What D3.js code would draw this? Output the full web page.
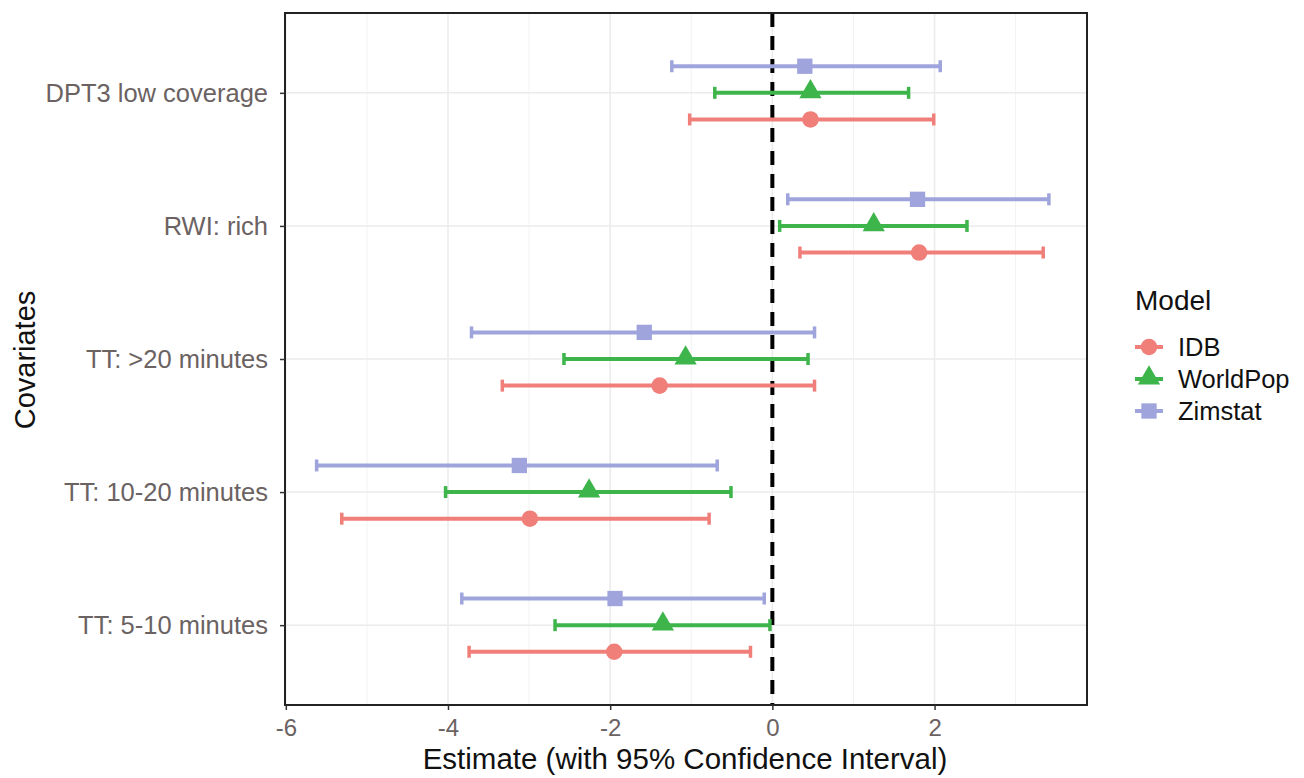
<!DOCTYPE html>
<html>
<head>
<meta charset="utf-8">
<script src="https://cdn.jsdelivr.net/npm/d3@7"></script>
<style>
  body { margin: 0; background: #fff; }
  text { font-family: "Liberation Sans", Arial, sans-serif; }
</style>
</head>
<body>
<div id="chart"></div>
<script>
// categories, top to bottom
var covariates = ["DPT3 low coverage", "RWI: rich", "TT: >20 minutes", "TT: 10-20 minutes", "TT: 5-10 minutes"];
var models = ["IDB", "WorldPop", "Zimstat"];
var colors = ["#F07F7A", "#3DB54B", "#9FA5DC"];

// estimates and confidence bounds, one value per covariate
var idbEst = [0.47, 1.81, -1.39, -2.99, -1.95];
var idbLo = [-1.02, 0.34, -3.33, -5.31, -3.74];
var idbHi = [1.99, 3.34, 0.52, -0.78, -0.27];

var wpEst = [0.47, 1.25, -1.07, -2.26, -1.35];
var wpLo = [-0.71, 0.09, -2.57, -4.03, -2.68];
var wpHi = [1.68, 2.40, 0.44, -0.51, -0.03];

var zimEst = [0.40, 1.79, -1.58, -3.12, -1.94];
var zimLo = [-1.24, 0.19, -3.71, -5.62, -3.83];
var zimHi = [2.07, 3.41, 0.52, -0.68, -0.10];

var xTicks = [-6, -4, -2, 0, 2];
var xMinor = [-5, -3, -1, 1, 3];

var series = [
    { model: "IDB", est: idbEst, lo: idbLo, hi: idbHi, offset: 0.2 },
    { model: "WorldPop", est: wpEst, lo: wpLo, hi: wpHi, offset: 0 },
    { model: "Zimstat", est: zimEst, lo: zimLo, hi: zimHi, offset: -0.2 }
];

var points = [];
series.forEach(function (s) {
    covariates.forEach(function (c, i) {
        points.push({ model: s.model, cov: c, idx: i, est: s.est[i], lo: s.lo[i], hi: s.hi[i], offset: s.offset });
    });
});

var W = 1304, H = 778;
var margin = { left: 285, right: 217, top: 13, bottom: 73 };

var svg = d3.select("#chart").append("svg").attr("width", W).attr("height", H);

var x = d3.scaleLinear().domain([-6.01, 3.88]).range([margin.left, W - margin.right]);
var y = d3.scaleLinear().domain([-0.6, covariates.length - 1 + 0.6]).range([margin.top, H - margin.bottom]);
var color = d3.scaleOrdinal().domain(models).range(colors);

var plot = svg.append("g");

// grid
plot.selectAll(".minor").data(xMinor).enter().append("line")
    .attr("x1", function (d) { return x(d); }).attr("x2", function (d) { return x(d); })
    .attr("y1", margin.top).attr("y2", H - margin.bottom)
    .attr("stroke", "#f2f2f2").attr("stroke-width", 1);
plot.selectAll(".major").data(xTicks).enter().append("line")
    .attr("x1", function (d) { return x(d); }).attr("x2", function (d) { return x(d); })
    .attr("y1", margin.top).attr("y2", H - margin.bottom)
    .attr("stroke", "#ebebeb").attr("stroke-width", 1.5);
plot.selectAll(".hgrid").data(covariates).enter().append("line")
    .attr("x1", margin.left).attr("x2", W - margin.right)
    .attr("y1", function (d, i) { return y(i); }).attr("y2", function (d, i) { return y(i); })
    .attr("stroke", "#ebebeb").attr("stroke-width", 1.5);

// zero line
plot.append("line")
    .attr("x1", x(0)).attr("x2", x(0))
    .attr("y1", margin.top).attr("y2", H - margin.bottom)
    .attr("stroke", "#000").attr("stroke-width", 4)
    .attr("stroke-dasharray", "14,9");

// error bars
var bars = plot.selectAll(".bar").data(points).enter().append("g")
    .attr("transform", function (d) { return "translate(0," + y(d.idx + d.offset) + ")"; });
bars.append("line")
    .attr("x1", function (d) { return x(d.lo); }).attr("x2", function (d) { return x(d.hi); })
    .attr("stroke", function (d) { return color(d.model); }).attr("stroke-width", 4);
bars.append("line")
    .attr("x1", function (d) { return x(d.lo); }).attr("x2", function (d) { return x(d.lo); })
    .attr("y1", -6).attr("y2", 6)
    .attr("stroke", function (d) { return color(d.model); }).attr("stroke-width", 3.5);
bars.append("line")
    .attr("x1", function (d) { return x(d.hi); }).attr("x2", function (d) { return x(d.hi); })
    .attr("y1", -6).attr("y2", 6)
    .attr("stroke", function (d) { return color(d.model); }).attr("stroke-width", 3.5);

var shapes = { IDB: d3.symbolCircle, WorldPop: d3.symbolTriangle, Zimstat: d3.symbolSquare };
var sizes = { IDB: 215, WorldPop: 215, Zimstat: 235 };
bars.append("path")
    .attr("transform", function (d) { return "translate(" + x(d.est) + "," + (d.model == "WorldPop" ? -1 : 0) + ")"; })
    .attr("d", function (d) { return d3.symbol().type(shapes[d.model]).size(sizes[d.model])(); })
    .attr("fill", function (d) { return color(d.model); });

// panel border
svg.append("rect")
    .attr("x", margin.left).attr("y", margin.top)
    .attr("width", W - margin.right - margin.left).attr("height", H - margin.bottom - margin.top)
    .attr("fill", "none").attr("stroke", "#222").attr("stroke-width", 2);

// x axis
var xAxis = svg.append("g")
    .attr("transform", "translate(0," + (H - margin.bottom) + ")")
    .call(d3.axisBottom(x).tickValues(xTicks).tickSize(5).tickPadding(9).tickFormat(d3.format("d")));
xAxis.select(".domain").remove();
xAxis.selectAll("line").attr("stroke", "#333").attr("stroke-width", 1.5);
xAxis.selectAll("text").attr("font-size", 24).attr("fill", "#6b6262")
    .attr("font-family", "Liberation Sans, Arial, sans-serif")
    .text(function (d) { return d < 0 ? "-" + Math.abs(d) : d; });

// y axis labels
var yAxis = svg.append("g")
    .attr("transform", "translate(" + margin.left + ",0)")
    .call(d3.axisLeft(y).tickValues(d3.range(covariates.length)).tickSize(5).tickPadding(12)
        .tickFormat(function (d) { return covariates[d]; }));
yAxis.select(".domain").remove();
yAxis.selectAll("line").attr("stroke", "#333").attr("stroke-width", 1.5);
yAxis.selectAll("text").attr("font-size", 25.5).attr("fill", "#6b6262")
    .attr("font-family", "Liberation Sans, Arial, sans-serif");

// titles
svg.append("text")
    .attr("x", (margin.left + W - margin.right) / 2 - 1).attr("y", H - 9)
    .attr("text-anchor", "middle").attr("font-size", 29.5).attr("fill", "#111")
    .text("Estimate (with 95% Confidence Interval)");
svg.append("text")
    .attr("transform", "translate(35,360) rotate(-90)")
    .attr("text-anchor", "middle").attr("font-size", 29).attr("fill", "#111")
    .text("Covariates");

// legend
var legend = svg.append("g").attr("transform", "translate(1135,310)");
legend.append("text").attr("x", 0).attr("y", 0).attr("font-size", 28).attr("fill", "#111").text("Model");
var items = legend.selectAll(".item").data(models).enter().append("g")
    .attr("transform", function (d, i) { return "translate(0," + (37 + i * 32) + ")"; });
items.append("line")
    .attr("x1", 0).attr("x2", 28)
    .attr("stroke", function (d) { return color(d); }).attr("stroke-width", 4);
items.append("path")
    .attr("transform", function (d) { return "translate(14," + (d == "WorldPop" ? -1 : 0) + ")"; })
    .attr("d", function (d) { return d3.symbol().type(shapes[d]).size(sizes[d])(); })
    .attr("fill", function (d) { return color(d); });
items.append("text")
    .attr("x", 43).attr("y", 9).attr("font-size", 25.5).attr("fill", "#111")
    .text(function (d) { return d; });
</script>
</body>
</html>
